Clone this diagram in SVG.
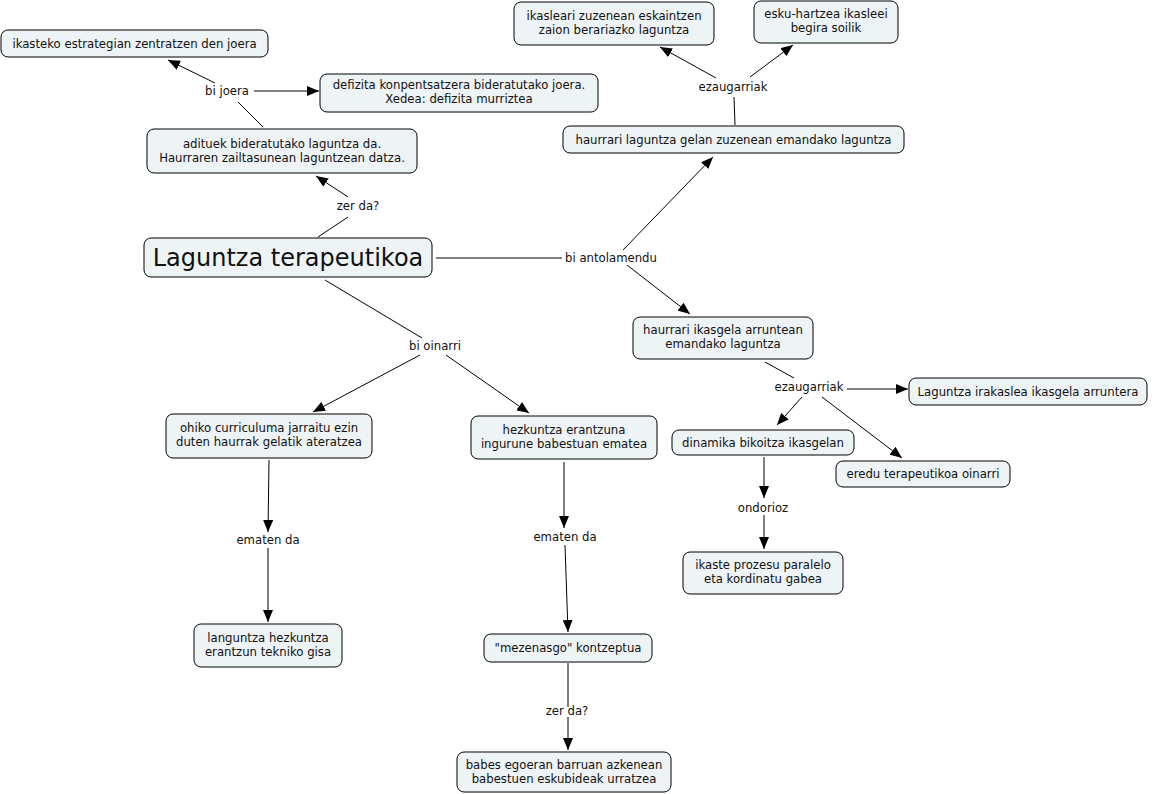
<svg xmlns="http://www.w3.org/2000/svg" width="1156" height="794" viewBox="0 0 1156 794">
<style>
.n rect{fill:#eef3f6;stroke:#000;stroke-width:1}
text{font-family:"DejaVu Sans",Verdana,sans-serif;font-size:11.7px;fill:#111;text-anchor:middle}
.big{font-size:24px}
.c path{fill:none;stroke:#000;stroke-width:1}
.c path.a{marker-end:url(#ar)}
</style>
<defs>
<marker id="ar" viewBox="0 0 12 10" refX="12" refY="5" markerWidth="12" markerHeight="10" markerUnits="userSpaceOnUse" orient="auto">
<path d="M0,0 L12,5 L0,10 z" fill="#000"/>
</marker>
</defs>
<rect width="1156" height="794" fill="#fff"/>
<g id="connectors" class="c">
<path d="M263,127 L238,102"/>
<path class="a" d="M215,83 L168,60"/>
<path class="a" d="M254,91 L319,91"/>
<path d="M318,237 L348,217"/>
<path class="a" d="M348,197 L316,176"/>
<path d="M436,258 L562,258"/>
<path class="a" d="M623,250 L713,157"/>
<path class="a" d="M627,265 L690,314"/>
<path d="M735,125 L734,97"/>
<path class="a" d="M716,78 L660,47"/>
<path class="a" d="M750,77 L793,45"/>
<path d="M765,362 L794,378"/>
<path class="a" d="M847,389 L908,389"/>
<path class="a" d="M802,397 L777,425"/>
<path class="a" d="M822,397 L902,458"/>
<path class="a" d="M764,457 L764,498"/>
<path class="a" d="M764,515 L764,549"/>
<path d="M325,280 L422,338"/>
<path class="a" d="M420,355 L313,412"/>
<path class="a" d="M446,355 L529,413"/>
<path class="a" d="M269,460 L268,532"/>
<path class="a" d="M268,548 L268,622"/>
<path class="a" d="M564,462 L564,528"/>
<path class="a" d="M565,545 L568,632"/>
<path d="M568,663 L568,707"/>
<path class="a" d="M568,717 L568,750"/>
</g>
<g id="labels">
<text x="227" y="95">bi joera</text>
<text x="358" y="210">zer da?</text>
<text x="733" y="91">ezaugarriak</text>
<text x="611" y="262">bi antolamendu</text>
<text x="435" y="350">bi oinarri</text>
<text x="809" y="391">ezaugarriak</text>
<text x="763" y="512">ondorioz</text>
<text x="268" y="544">ematen da</text>
<text x="565" y="541">ematen da</text>
<text x="567" y="715">zer da?</text>
</g>
<g id="n1" class="n"><rect x="1" y="30" width="267" height="27" rx="7"/><text x="134.5" y="47.5">ikasteko estrategian zentratzen den joera</text></g>
<g id="n2" class="n"><rect x="320" y="74" width="278" height="38" rx="7"/><text x="459" y="89">defizita konpentsatzera bideratutako joera.</text><text x="459" y="103">Xedea: defizita murriztea</text></g>
<g id="n3" class="n"><rect x="147" y="129" width="270" height="44" rx="7"/><text x="282" y="148">adituek bideratutako laguntza da.</text><text x="282" y="162">Haurraren zailtasunean laguntzean datza.</text></g>
<g id="n4" class="n"><rect x="144" y="238" width="288" height="39" rx="7"/><text class="big" x="288" y="266">Laguntza terapeutikoa</text></g>
<g id="n5" class="n"><rect x="514" y="2" width="200" height="43" rx="7"/><text x="614" y="20">ikasleari zuzenean eskaintzen</text><text x="614" y="34">zaion berariazko laguntza</text></g>
<g id="n6" class="n"><rect x="754" y="1" width="144" height="42" rx="7"/><text x="826" y="18">esku-hartzea ikasleei</text><text x="826" y="32">begira soilik</text></g>
<g id="n7" class="n"><rect x="563" y="126" width="341" height="27" rx="7"/><text x="733.5" y="143.5">haurrari laguntza gelan zuzenean emandako laguntza</text></g>
<g id="n8" class="n"><rect x="633" y="317" width="180" height="42" rx="7"/><text x="723" y="334">haurrari ikasgela arruntean</text><text x="723" y="348">emandako laguntza</text></g>
<g id="n9" class="n"><rect x="909" y="378" width="238" height="27" rx="7"/><text x="1028" y="395.5">Laguntza irakaslea ikasgela arruntera</text></g>
<g id="n10" class="n"><rect x="672" y="430" width="182" height="25" rx="7"/><text x="763" y="446.5">dinamika bikoitza ikasgelan</text></g>
<g id="n11" class="n"><rect x="836" y="461" width="174" height="26" rx="7"/><text x="923" y="478">eredu terapeutikoa oinarri</text></g>
<g id="n12" class="n"><rect x="683" y="552" width="160" height="42" rx="7"/><text x="763" y="569">ikaste prozesu paralelo</text><text x="763" y="583">eta kordinatu gabea</text></g>
<g id="n13" class="n"><rect x="166" y="414" width="206" height="44" rx="7"/><text x="269" y="432">ohiko curriculuma jarraitu ezin</text><text x="269" y="446">duten haurrak gelatik ateratzea</text></g>
<g id="n14" class="n"><rect x="471" y="416" width="186" height="43" rx="7"/><text x="564" y="434">hezkuntza erantzuna</text><text x="564" y="448">ingurune babestuan ematea</text></g>
<g id="n15" class="n"><rect x="194" y="624" width="148" height="43" rx="7"/><text x="268" y="642">languntza hezkuntza</text><text x="268" y="656">erantzun tekniko gisa</text></g>
<g id="n16" class="n"><rect x="484" y="634" width="168" height="28" rx="7"/><text x="568" y="652">"mezenasgo" kontzeptua</text></g>
<g id="n17" class="n"><rect x="457" y="752" width="214" height="40" rx="7"/><text x="564" y="769">babes egoeran barruan azkenean</text><text x="564" y="783">babestuen eskubideak urratzea</text></g>
</svg>
